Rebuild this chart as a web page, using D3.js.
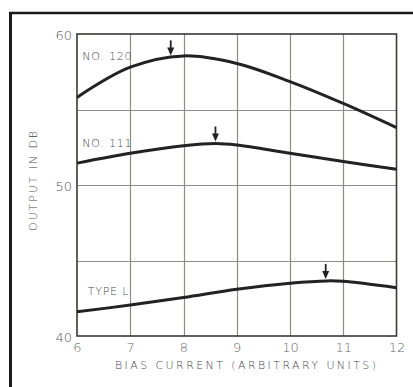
<!DOCTYPE html>
<html><head><meta charset="utf-8">
<script src="https://cdn.jsdelivr.net/npm/d3@7"></script>
<style>html,body{margin:0;padding:0;background:#fff;}svg{display:block;}</style>
</head><body>
<script>
const xTicks = [6,7,8,9,10,11,12];
const yTicks = [40,50,60];
const yGrid = [45,50,55];
const seriesNames = ["NO. 120","NO. 111","TYPE L"];
const x120 = [6,7,8,9,10,11,12];
const y120 = [55.8,57.8,58.55,58.05,56.85,55.4,53.8];
const x111 = [6,7,8,8.6,9,10,11,12];
const y111 = [51.45,52.1,52.6,52.75,52.65,52.1,51.55,51.05];
const xL = [6,7,8,9,10,10.7,11,12];
const yL = [41.6,42.05,42.55,43.1,43.5,43.65,43.62,43.2];
const peaksX = [7.76,8.6,10.67];
const peaksY = [58.45,52.75,43.65];
const xTitle = "BIAS CURRENT  (ARBITRARY UNITS)";
const yTitle = "OUTPUT IN DB";

const W=413,H=387;
const svg=d3.select("body").append("svg").attr("width",W).attr("height",H);
svg.append("rect").attr("width",W).attr("height",H).attr("fill","#fff");
// outer frame
svg.append("line").attr("x1",9).attr("x2",W).attr("y1",13).attr("y2",13).attr("stroke","#1a1a1a").attr("stroke-width",2.5);
svg.append("line").attr("x1",10.5).attr("x2",10.5).attr("y1",12).attr("y2",H).attr("stroke","#1a1a1a").attr("stroke-width",3);

const L=77,R=396.5,T=34,B=336;
const x=d3.scaleLinear().domain([6,12]).range([L,R]);
const y=d3.scaleLinear().domain([40,60]).range([B,T]);
const font="'DejaVu Sans', sans-serif";
const txt="#4a4a4a";

const g=svg.append("g");
// grid
g.selectAll("line.vg").data(xTicks.slice(1,-1)).enter().append("line").attr("class","vg")
 .attr("x1",d=>Math.round(x(d))+0.5).attr("x2",d=>Math.round(x(d))+0.5).attr("y1",T).attr("y2",B)
 .attr("stroke","#8c8c84").attr("stroke-width",1.2);
g.selectAll("line.hg").data(yGrid).enter().append("line").attr("class","hg")
 .attr("x1",L).attr("x2",R).attr("y1",d=>Math.round(y(d))+0.5).attr("y2",d=>Math.round(y(d))+0.5)
 .attr("stroke","#8c8c84").attr("stroke-width",1.2);
g.append("rect").attr("x",L).attr("y",T).attr("width",R-L).attr("height",B-T)
 .attr("fill","none").attr("stroke","#3a3a32").attr("stroke-width",1.6);

// axes labels via d3 axis
const xAxis=d3.axisBottom(x).tickValues(xTicks).tickSize(0).tickPadding(0).tickFormat(d3.format("d"));
const xa=svg.append("g").attr("transform",`translate(0,${B+16})`).call(xAxis);
xa.select(".domain").remove();
xa.selectAll("text").attr("font-family",font).attr("font-size",13).attr("font-weight",200).attr("fill","#6a6a6a").attr("dy","0");
const yAxis=d3.axisLeft(y).tickValues(yTicks).tickSize(0).tickPadding(5).tickFormat(d3.format("d"));
const ya=svg.append("g").attr("transform",`translate(${L},0)`).call(yAxis);
ya.select(".domain").remove();
ya.selectAll("text").attr("font-family",font).attr("font-size",13).attr("font-weight",200).attr("fill","#555").attr("dy","0.45em");

svg.append("text").attr("x",115).attr("y",368.5).attr("textLength",261).attr("lengthAdjust","spacing")
 .attr("font-family",font).attr("font-size",11).attr("font-weight",200).attr("fill",txt).text(xTitle);
svg.append("text").attr("transform",`translate(37,180) rotate(-90)`).attr("text-anchor","middle")
 .attr("font-family",font).attr("font-size",11).attr("font-weight",200).attr("letter-spacing",1.9).attr("fill",txt).text(yTitle);

const line=d3.line().x(d=>x(d[0])).y(d=>y(d[1])).curve(d3.curveCatmullRom.alpha(0.5));
const series=[[x120,y120],[x111,y111],[xL,yL]];
series.forEach(([xs,ys])=>{
  g.append("path").datum(xs.map((v,i)=>[v,ys[i]])).attr("d",line)
   .attr("fill","none").attr("stroke","#222").attr("stroke-width",3).attr("stroke-linejoin","round");
});
// arrows
peaksX.forEach((px,i)=>{
  const tx=x(px), ty=y(peaksY[i])-2;
  g.append("line").attr("x1",tx).attr("x2",tx).attr("y1",ty-15).attr("y2",ty-3).attr("stroke","#222").attr("stroke-width",1.8);
  g.append("path").attr("d",`M${tx-3.5},${ty-8}L${tx+3.5},${ty-8}L${tx},${ty}Z`).attr("fill","#222");
});
// series labels
const labPos=[[6.1,58.25],[6.1,52.5],[6.2,42.7]];
seriesNames.forEach((n,i)=>{
  svg.append("text").attr("x",x(labPos[i][0])).attr("y",y(labPos[i][1])).attr("font-family",font)
   .attr("font-size",11).attr("font-weight",200).attr("letter-spacing",0.8).attr("fill",txt).text(n);
});
</script>
</body></html>
